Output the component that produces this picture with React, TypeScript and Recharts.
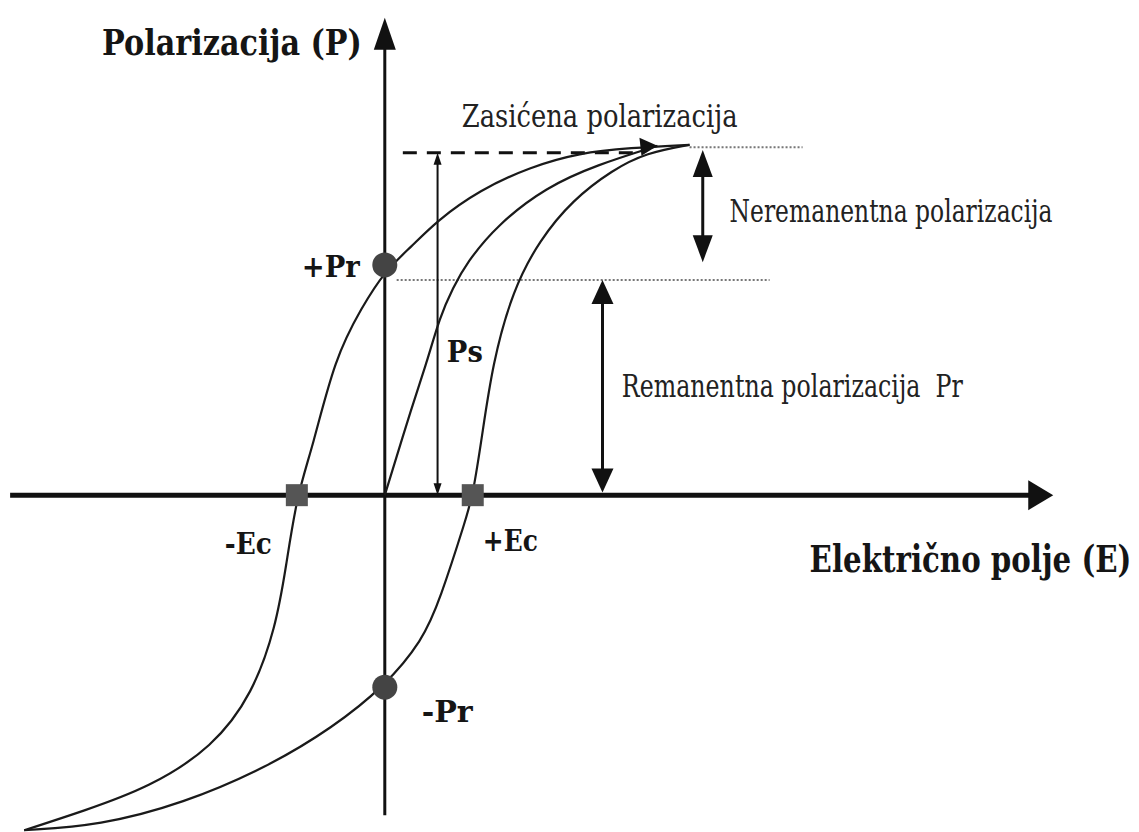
import { ComposedChart, Line, Scatter, XAxis, YAxis, ReferenceLine, ReferenceDot } from 'recharts'

// descending branch: from -Ps up through -Ec and +Pr to +Ps
export const upperBranch = [
    { E: -8.2, P: -9.65 },
    { E: -6.86, P: -9.1 },
    { E: -5.34, P: -8.41 },
    { E: -3.91, P: -7.26 },
    { E: -3.0, P: -5.71 },
    { E: -2.48, P: -3.8 },
    { E: -2.25, P: -2.1 },
    { E: -2.0, P: 0 },
    { E: -1.64, P: 1.38 },
    { E: -1.14, P: 3.94 },
    { E: -0.52, P: 5.42 },
    { E: 0.0, P: 6.45 },
    { E: 0.6, P: 7.15 },
    { E: 1.18, P: 7.9 },
    { E: 2.16, P: 8.79 },
    { E: 3.3, P: 9.45 },
    { E: 4.43, P: 9.86 },
    { E: 5.57, P: 10.0 },
    { E: 6.93, P: 10.09 },
]

// ascending branch: through -Pr and +Ec
export const lowerBranch = [
    { E: -8.2, P: -9.65 },
    { E: -6.48, P: -9.51 },
    { E: -4.59, P: -8.88 },
    { E: -2.68, P: -7.84 },
    { E: -1.18, P: -6.69 },
    { E: 0.0, P: -5.5 },
    { E: 0.86, P: -4.18 },
    { E: 1.25, P: -3.03 },
    { E: 1.86, P: -0.63 },
    { E: 2.0, P: 0 },
    { E: 2.2, P: 1.59 },
    { E: 2.45, P: 3.8 },
    { E: 2.91, P: 5.91 },
    { E: 3.52, P: 7.35 },
    { E: 4.27, P: 8.5 },
    { E: 5.18, P: 9.37 },
    { E: 5.95, P: 9.86 },
    { E: 6.93, P: 10.09 },
]

// first polarization from the origin
export const initialCurve = [
    { E: 0, P: 0 },
    { E: 0.64, P: 2.65 },
    { E: 0.95, P: 3.8 },
    { E: 1.25, P: 5.13 },
    { E: 1.55, P: 5.97 },
    { E: 1.86, P: 6.69 },
    { E: 2.55, P: 7.78 },
    { E: 3.68, P: 8.88 },
    { E: 4.82, P: 9.51 },
    { E: 6.2, P: 10.06 },
]

export const remanentPoints = [{ E: 0, P: 6.63 }, { E: 0, P: -5.53 }]
export const coercivePoints = [{ E: -2.0, P: 0 }, { E: 2.0, P: 0 }]

const Ps = 9.86
const PrLevel = 6.2
const satLevel = 10.02
const eRange = [-8.52, 15.2]
const pRange = [-9.22, 13.75]

const ink = '#111'
const font = "'DejaVu Serif', serif"

let ctx: CanvasRenderingContext2D | null = null
const measure = (text: string, f: string) => {
    if (!ctx) ctx = document.createElement('canvas').getContext('2d')
    if (!ctx) return text.length * 16
    ctx.font = f
    return ctx.measureText(text).width
}

const arrow = (heads: 'start' | 'end' | 'both', len: number, half: number, width: number) => (p: any) => {
    const { x1, y1, x2, y2 } = p
    const dx = x2 - x1
    const dy = y2 - y1
    const d = Math.hypot(dx, dy) || 1
    const ux = dx / d
    const uy = dy / d
    const head = (tx: number, ty: number, sx: number, sy: number) => {
        const bx = tx - sx * len
        const by = ty - sy * len
        return `${tx},${ty} ${bx - sy * half},${by + sx * half} ${bx + sy * half},${by - sx * half}`
    }
    const s = heads !== 'end'
    const e = heads !== 'start'
    return (
        <g>
            <line
                x1={s ? x1 + ux * len * 0.6 : x1}
                y1={s ? y1 + uy * len * 0.6 : y1}
                x2={e ? x2 - ux * len * 0.6 : x2}
                y2={e ? y2 - uy * len * 0.6 : y2}
                stroke={ink}
                strokeWidth={width}
            />
            {s && <polygon points={head(x1, y1, -ux, -uy)} fill={ink} />}
            {e && <polygon points={head(x2, y2, ux, uy)} fill={ink} />}
        </g>
    )
}

// text squeezed horizontally to the width it has in the picture
const txt = (text: string, size: number, bold: boolean, width: number) => (p: any) => {
    const weight = bold ? 'bold' : 'normal'
    const natural = measure(text, `${weight} ${size}px ${font}`)
    const sx = width / natural
    return (
        <text
            transform={`translate(${p.cx},${p.cy}) scale(${sx},1)`}
            x={0}
            y={0}
            fontFamily={font}
            fontSize={size}
            fontWeight={weight}
            fill={bold ? '#151515' : '#222'}
        >
            {text}
        </text>
    )
}

const circleDot = (p: any) => <circle cx={p.cx} cy={p.cy} r={12.5} fill='#444' />
const squareDot = (p: any) => <rect x={p.cx - 11} y={p.cy - 11} width={22} height={22} fill='#555' />
const tipArrow = (p: any) => (
    <polygon points={`${p.cx},${p.cy} ${p.cx - 18},${p.cy - 8} ${p.cx - 16},${p.cy + 10}`} fill={ink} />
)

export default function App() {
    const tip = initialCurve[initialCurve.length - 1]
    return (
        <div style={{ position: 'absolute', left: 0, top: 0, width: 1139, height: 832, background: '#fff' }}>
            <ComposedChart width={1139} height={832} margin={{ top: 0, right: 0, bottom: 0, left: 0 }}>
                <XAxis type='number' dataKey='E' domain={[-8.75, 17.15]} hide allowDataOverflow />
                <YAxis type='number' dataKey='P' domain={[-9.7, 14.26]} hide allowDataOverflow />

                {/* axes */}
                <ReferenceLine segment={[{ x: eRange[0], y: 0 }, { x: eRange[1], y: 0 }]} shape={arrow('end', 25, 15, 5)} />
                <ReferenceLine segment={[{ x: 0, y: pRange[0] }, { x: 0, y: pRange[1] }]} shape={arrow('end', 32, 11, 3)} />

                {/* guide lines */}
                <ReferenceLine segment={[{ x: 0.41, y: Ps }, { x: 5.8, y: Ps }]} stroke={ink} strokeWidth={3} strokeDasharray='14 10' />
                <ReferenceLine segment={[{ x: 6.93, y: satLevel }, { x: 9.5, y: satLevel }]} stroke='#777' strokeWidth={2} strokeDasharray='2 2' />
                <ReferenceLine segment={[{ x: 0.27, y: PrLevel }, { x: 8.75, y: PrLevel }]} stroke='#777' strokeWidth={2} strokeDasharray='2 2' />

                {/* dimension arrows */}
                <ReferenceLine segment={[{ x: 1.2, y: 0 }, { x: 1.2, y: Ps }]} shape={arrow('both', 12, 4, 2)} />
                <ReferenceLine segment={[{ x: 7.23, y: 6.71 }, { x: 7.23, y: 9.94 }]} shape={arrow('both', 27, 10, 3)} />
                <ReferenceLine segment={[{ x: 4.95, y: 0.08 }, { x: 4.95, y: PrLevel }]} shape={arrow('both', 24, 11, 3)} />

                {/* loop */}
                <Line data={upperBranch} dataKey='P' type='basis' stroke='#1a1a1a' strokeWidth={2.2} dot={false} activeDot={false} isAnimationActive={false} />
                <Line data={lowerBranch} dataKey='P' type='basis' stroke='#1a1a1a' strokeWidth={2.2} dot={false} activeDot={false} isAnimationActive={false} />
                <Line data={initialCurve} dataKey='P' type='basis' stroke='#1a1a1a' strokeWidth={2.2} dot={false} activeDot={false} isAnimationActive={false} />

                <Scatter data={[tip]} dataKey='P' shape={tipArrow} isAnimationActive={false} />
                <Scatter data={remanentPoints} dataKey='P' shape={circleDot} isAnimationActive={false} />
                <Scatter data={coercivePoints} dataKey='P' shape={squareDot} isAnimationActive={false} />

                {/* labels */}
                <ReferenceDot x={-6.43} y={12.68} r={1} shape={txt('Polarizacija (P)', 36, true, 260)} />
                <ReferenceDot x={9.66} y={-2.22} r={1} shape={txt('Električno polje (E)', 38, true, 322)} />
                <ReferenceDot x={-1.89} y={6.28} r={1} shape={txt('+Pr', 30, true, 58)} />
                <ReferenceDot x={1.41} y={3.83} r={1} shape={txt('Ps', 30, true, 36)} />
                <ReferenceDot x={-3.64} y={-1.7} r={1} shape={txt('-Ec', 30, true, 47)} />
                <ReferenceDot x={2.23} y={-1.61} r={1} shape={txt('+Ec', 30, true, 55)} />
                <ReferenceDot x={0.84} y={-6.54} r={1} shape={txt('-Pr', 30, true, 51)} />
                <ReferenceDot x={1.75} y={10.6} r={1} shape={txt('Zasićena polarizacija', 32, false, 276)} />
                <ReferenceDot x={7.84} y={7.87} r={1} shape={txt('Neremanentna polarizacija', 32, false, 323)} />
                <ReferenceDot x={5.39} y={2.82} r={1} shape={txt('Remanentna polarizacija\u00a0\u00a0Pr', 32, false, 341)} />
            </ComposedChart>
        </div>
    )
}
